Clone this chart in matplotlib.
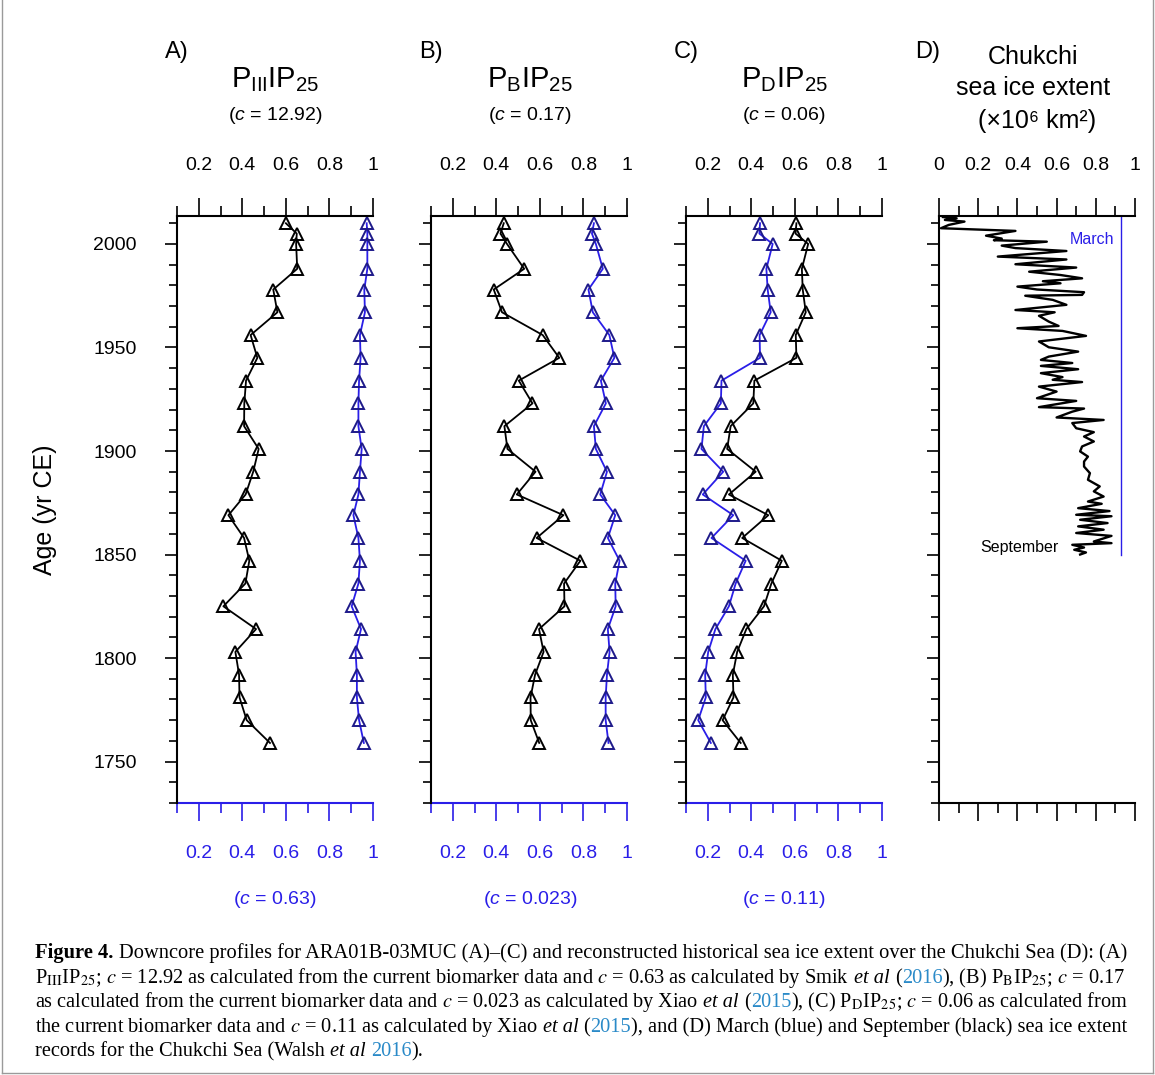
import matplotlib
matplotlib.use('Agg')
import matplotlib.pyplot as plt
from matplotlib.lines import Line2D

plt.rcParams['font.family'] = ['Liberation Sans', 'DejaVu Sans']
plt.rcParams['mathtext.fontset'] = 'custom'
plt.rcParams['mathtext.rm'] = 'Liberation Sans'
plt.rcParams['mathtext.it'] = 'Liberation Sans:italic'
plt.rcParams['mathtext.bf'] = 'Liberation Sans:bold'

# ---- data ----
ages = [2010, 2005, 2000, 1988, 1978, 1967, 1956, 1945, 1934, 1923, 1912, 1901, 1890,
        1879, 1869, 1858, 1847, 1836, 1825, 1814, 1803, 1792, 1781, 1770, 1759]

piiiip25_new = [0.60, 0.65, 0.647, 0.652, 0.542, 0.561, 0.438, 0.469, 0.417, 0.409, 0.408, 0.475, 0.450,
                0.415, 0.336, 0.408, 0.432, 0.414, 0.313, 0.463, 0.368, 0.385, 0.387, 0.420, 0.527]
piiiip25_old = [0.971, 0.974, 0.974, 0.974, 0.960, 0.963, 0.940, 0.943, 0.936, 0.933, 0.933, 0.948, 0.940,
                0.933, 0.910, 0.933, 0.940, 0.933, 0.902, 0.945, 0.920, 0.926, 0.926, 0.936, 0.958]

pbip25_new = [0.434, 0.419, 0.449, 0.528, 0.388, 0.426, 0.613, 0.689, 0.503, 0.566, 0.437, 0.451, 0.580,
              0.494, 0.708, 0.585, 0.786, 0.711, 0.713, 0.596, 0.617, 0.578, 0.557, 0.558, 0.597]
pbip25_old = [0.848, 0.839, 0.857, 0.889, 0.823, 0.843, 0.919, 0.942, 0.880, 0.903, 0.848, 0.857, 0.908,
              0.877, 0.946, 0.912, 0.966, 0.946, 0.948, 0.912, 0.920, 0.908, 0.902, 0.902, 0.915]

pdip25_new = [0.607, 0.603, 0.661, 0.632, 0.636, 0.650, 0.604, 0.607, 0.414, 0.409, 0.305, 0.289, 0.420,
              0.297, 0.478, 0.358, 0.540, 0.492, 0.458, 0.377, 0.335, 0.315, 0.318, 0.268, 0.351]
pdip25_old = [0.440, 0.437, 0.498, 0.469, 0.475, 0.489, 0.438, 0.440, 0.263, 0.260, 0.182, 0.171, 0.271,
              0.177, 0.317, 0.217, 0.374, 0.328, 0.297, 0.235, 0.202, 0.188, 0.191, 0.156, 0.214]

sep_years = [2013.0, 2012.4, 2011.6, 2010.8, 2009.2, 2007.6, 2006.3, 2004.0, 2002.6, 2001.8, 2001.1,
             1999.2, 1998.0, 1996.6, 1993.9, 1992.5, 1990.2, 1988.6, 1986.6, 1985.0, 1983.4, 1982.0,
             1981.0, 1979.4, 1978.0, 1976.7, 1975.4, 1975.0, 1973.0, 1970.6, 1968.1, 1967.0, 1965.3,
             1962.5, 1960.4, 1959.3, 1958.0, 1955.6, 1952.9, 1950.1, 1948.0, 1945.6, 1944.0, 1942.5,
             1941.1, 1939.5, 1937.6, 1935.7, 1934.4, 1933.3, 1931.1, 1928.7, 1925.5, 1924.2, 1921.2,
             1920.5, 1919.0, 1916.2, 1915.0, 1913.5, 1911.0, 1909.1, 1907.0, 1904.6, 1902.2, 1899.8,
             1897.3, 1894.9, 1892.5, 1889.3, 1886.1, 1882.9, 1880.5, 1878.0, 1875.6, 1874.5, 1872.4,
             1871.0, 1869.2, 1868.5, 1866.8, 1865.2, 1863.6, 1862.0, 1860.4, 1859.0, 1856.3, 1855.5,
             1854.7, 1853.4, 1852.3, 1851.0, 1850.0]
sep_extent = [0.02, 0.09, 0.03, 0.13, 0.05, 0.01, 0.39, 0.24, 0.32, 0.28, 0.55,
              0.32, 0.39, 0.65, 0.30, 0.65, 0.39, 0.70, 0.46, 0.62, 0.73, 0.53,
              0.62, 0.40, 0.50, 0.74, 0.73, 0.44, 0.58, 0.65, 0.39, 0.59, 0.51,
              0.56, 0.61, 0.40, 0.63, 0.75, 0.51, 0.56, 0.71, 0.56, 0.52, 0.68,
              0.52, 0.71, 0.52, 0.63, 0.58, 0.73, 0.51, 0.60, 0.50, 0.70, 0.51,
              0.74, 0.68, 0.60, 0.84, 0.68, 0.70, 0.79, 0.74, 0.79, 0.73, 0.72,
              0.76, 0.74, 0.74, 0.77, 0.76, 0.82, 0.79, 0.84, 0.76, 0.83, 0.71,
              0.87, 0.70, 0.88, 0.72, 0.86, 0.71, 0.84, 0.70, 0.88, 0.79, 0.88,
              0.68, 0.74, 0.69, 0.75, 0.72]
mar_years = [2013.5, 1850.0]
mar_extent = [0.928, 0.928]

titles = [r'$\mathrm{P_{III}IP_{25}}$', r'$\mathrm{P_{B}IP_{25}}$', r'$\mathrm{P_{D}IP_{25}}$']
c_top = ['12.92', '0.17', '0.06']
c_bottom = ['0.63', '0.023', '0.11']
letters = ['A)', 'B)', 'C)', 'D)']
xlabels_abc = ['0.2', '0.4', '0.6', '0.8', '1']
xlabels_d = ['0', '0.2', '0.4', '0.6', '0.8', '1']

BLUE = '#2a1ee8'
BLUE_EDGE = '#1e1a8a'
LINK = '#2a8ac8'

W, H = 1155, 1075
fig = plt.figure(figsize=(11.55, 10.75), dpi=100)


def fx(px):
    return px / W


def fy(py):
    return 1 - py / H


top, bottom = 216, 803
lefts = [177, 431, 686, 939]
axw = 196

axes = []
for i, left in enumerate(lefts):
    ax = fig.add_axes([fx(left), fy(bottom), axw / W, (bottom - top) / H])
    ax.set_ylim(1730, 2013.5)
    ax.set_yticks([1750, 1800, 1850, 1900, 1950, 2000])
    ax.set_yticks(list(range(1730, 2014, 10)), minor=True)
    ax.spines['right'].set_visible(False)
    for s in ['left', 'top', 'bottom']:
        ax.spines[s].set_linewidth(1.5)
    ax.tick_params(axis='y', which='major', direction='out', length=9, width=1.2,
                   labelsize=14, pad=20, labelleft=(i == 0))
    ax.tick_params(axis='y', which='minor', direction='out', length=5.5, width=1.2)
    if i < 3:
        ax.set_xlim(0.1, 1.0)
        ax.set_xticks([0.2, 0.4, 0.6, 0.8, 1.0], xlabels_abc)
        ax.set_xticks([0.1, 0.3, 0.5, 0.7, 0.9], minor=True)
        ax.tick_params(axis='x', which='both', top=True, bottom=False,
                       labeltop=True, labelbottom=False)
        ax.spines['bottom'].set_visible(False)
        sec = ax.secondary_xaxis('bottom')
        sec.set_xticks([0.2, 0.4, 0.6, 0.8, 1.0], xlabels_abc)
        sec.set_xticks([0.1, 0.3, 0.5, 0.7, 0.9], minor=True)
        sec.spines['bottom'].set_color(BLUE)
        sec.spines['bottom'].set_linewidth(1.5)
        sec.tick_params(axis='x', which='major', direction='out', length=13, width=1.2,
                        colors=BLUE, labelsize=14, pad=17)
        sec.tick_params(axis='x', which='minor', direction='out', length=7, width=1.2,
                        colors=BLUE)
    else:
        ax.set_xlim(0.0, 1.0)
        ax.set_xticks([0.0, 0.2, 0.4, 0.6, 0.8, 1.0], xlabels_d)
        ax.set_xticks([0.1, 0.3, 0.5, 0.7, 0.9], minor=True)
        ax.tick_params(axis='x', which='both', top=True, bottom=True,
                       labeltop=True, labelbottom=False)
    ax.tick_params(axis='x', which='major', direction='out', length=13, width=1.2,
                   labelsize=14, pad=17)
    ax.tick_params(axis='x', which='minor', direction='out', length=7, width=1.2)
    axes.append(ax)

panels = [(piiiip25_new, piiiip25_old), (pbip25_new, pbip25_old), (pdip25_new, pdip25_old)]
for ax, (new, old) in zip(axes[:3], panels):
    ax.plot(old, ages, color=BLUE, lw=1.3, marker='^', ms=9, mfc='none',
            mec=BLUE_EDGE, mew=1.4, clip_on=False)
    ax.plot(new, ages, color='black', lw=1.3, marker='^', ms=9, mfc='none',
            mec='black', mew=1.4, clip_on=False)

axd = axes[3]
axd.plot(mar_extent, mar_years, color=BLUE, lw=1.0)
axd.plot(sep_extent, sep_years, color='black', lw=1.7)
axd.text(0.78, 2002, 'March', color=BLUE, fontsize=11.5, ha='center', va='center')
axd.text(0.41, 1853.3, 'September', color='black', fontsize=11.5, ha='center', va='center')

# panel headings
centers = [275, 530, 784]
for i in range(3):
    fig.text(fx(lefts[i]), fy(52), letters[i], fontsize=17, ha='center', va='center')
    fig.text(fx(centers[i]), fy(80), titles[i], fontsize=21, ha='center', va='center')
    fig.text(fx(centers[i]), fy(115), r'($c$ = ' + c_top[i] + ')', fontsize=14,
             ha='center', va='center')
    fig.text(fx(centers[i]), fy(900), r'($c$ = ' + c_bottom[i] + ')', fontsize=14,
             ha='center', va='center', color=BLUE)
fig.text(fx(928), fy(52), letters[3], fontsize=17, ha='center', va='center')
fig.text(fx(1033), fy(57), 'Chukchi', fontsize=18, ha='center', va='center')
fig.text(fx(1033), fy(88), 'sea ice extent', fontsize=18, ha='center', va='center')
fig.text(fx(1037), fy(121), '(\u00d710\u2076 km\u00b2)', fontsize=18, ha='center', va='center')

fig.text(fx(45), fy(510), 'Age (yr CE)', fontsize=18, rotation=90, ha='center', va='center')

# page frame
for xs, ys in [([2, 2], [0, 1073]), ([1153, 1153], [0, 1073]), ([2, 1153], [1073, 1073])]:
    fig.add_artist(Line2D([fx(x) for x in xs], [fy(y) for y in ys],
                          transform=fig.transFigure, color='#9a9a9a', lw=1.0))

# caption
renderer = fig.canvas.get_renderer()
BOLD = {'weight': 'bold'}
ITAL = {'style': 'italic'}
LNK = {'color': LINK}
cap_lines = [
    [('Figure 4.', BOLD, False),
     ('Downcore profiles for ARA01B-03MUC (A)\u2013(C) and reconstructed historical sea ice '
      'extent over the Chukchi Sea (D): (A)', {}, True)],
    [(r'P$_{\rm III}$IP$_{25}$; $c$ = 12.92 as calculated from the current biomarker data and '
      r'$c$ = 0.63 as calculated by Smik', {}, False),
     ('et al', ITAL, True), ('(', {}, True), ('2016', LNK, False),
     (r'), (B) P$_{\rm B}$IP$_{25}$; $c$ = 0.17', {}, False)],
    [(r'as calculated from the current biomarker data and $c$ = 0.023 as calculated by Xiao',
      {}, False),
     ('et al', ITAL, True), ('(', {}, True), ('2015', LNK, False),
     (r'), (C) P$_{\rm D}$IP$_{25}$; $c$ = 0.06 as calculated from', {}, False)],
    [(r'the current biomarker data and $c$ = 0.11 as calculated by Xiao', {}, False),
     ('et al', ITAL, True), ('(', {}, True), ('2015', LNK, False),
     ('), and (D) March (blue) and September (black) sea ice extent', {}, False)],
    [('records for the Chukchi Sea (Walsh', {}, False), ('et al', ITAL, True),
     ('2016', LNK, True), (').', {}, False)],
]
cap_base = [958, 983, 1007, 1032, 1056]


def space_width(sz):
    a = fig.text(0, 0, 'x x', fontsize=sz, family='Liberation Serif')
    b = fig.text(0, 0, 'xx', fontsize=sz, family='Liberation Serif')
    w = a.get_window_extent(renderer).width - b.get_window_extent(renderer).width
    a.remove()
    b.remove()
    return w


def draw_caption_line(segs, x0, ybase, size, target=None):
    def build(sz):
        arts = []
        for text, kw, sp in segs:
            t = fig.text(0, fy(ybase), text, fontsize=sz, family='Liberation Serif',
                         math_fontfamily='stix', ha='left', va='baseline', **kw)
            arts.append((t, sp))
        return arts

    arts = build(size)
    sw = space_width(size)
    if target is not None:
        total = sum(t.get_window_extent(renderer).width + (sw if sp else 0) for t, sp in arts)
        size = size * target / total
        for t, sp in arts:
            t.remove()
        arts = build(size)
        sw = space_width(size)
    x = x0
    for t, sp in arts:
        if sp:
            x += sw
        t.set_x(fx(x))
        x += t.get_window_extent(renderer).width
    return size


sizes = []
for segs, yb in zip(cap_lines[:4], cap_base[:4]):
    sizes.append(draw_caption_line(segs, 35, yb, 13, target=1089))
draw_caption_line(cap_lines[4], 35, cap_base[4], sum(sizes) / len(sizes))

fig.savefig('out.png', dpi=100)
